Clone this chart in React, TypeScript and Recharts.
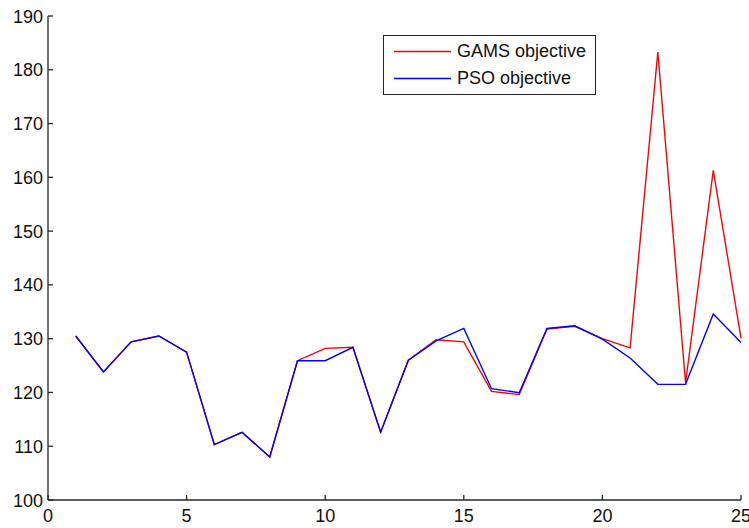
import React from 'react';
import { LineChart, Line, XAxis, YAxis, Legend } from 'recharts';

const xValues = [1, 2, 3, 4, 5, 6, 7, 8, 9, 10, 11, 12, 13, 14, 15, 16, 17, 18, 19, 20, 21, 22, 23, 24, 25];
const gamsObjective = [130.5, 123.8, 129.4, 130.5, 127.5, 110.3, 112.6, 108.0, 125.9, 128.2, 128.4, 112.6, 126.0, 129.8, 129.4, 120.2, 119.6, 131.8, 132.3, 130.0, 128.3, 183.3, 121.8, 161.3, 130.1];
const psoObjective = [130.5, 123.8, 129.4, 130.5, 127.5, 110.3, 112.6, 108.0, 125.9, 125.9, 128.4, 112.6, 126.0, 129.6, 131.9, 120.7, 119.95, 131.9, 132.4, 129.9, 126.4, 121.5, 121.5, 134.6, 129.3];
const xTicks = [0, 5, 10, 15, 20, 25];
const yTicks = [100, 110, 120, 130, 140, 150, 160, 170, 180, 190];
const seriesNames = ['GAMS objective', 'PSO objective'];
const seriesColors = ['#ff0000', '#0000ff'];

const data = xValues.map((x, i) => ({ x, gams: gamsObjective[i], pso: psoObjective[i] }));

const FONT = '"Liberation Sans", Arial, sans-serif';
const AXIS = '#262626';
const TEXT = '#111';
const TICK_LEN = 5;

const BottomTick = (props: any) => {
  const { x, y, payload } = props;
  return (
    <g>
      <line x1={x} x2={x} y1={y} y2={y - TICK_LEN} stroke={AXIS} strokeWidth={1.3} />
      <text x={x} y={y + 22} textAnchor="middle" fill={TEXT} fontSize={18} fontFamily={FONT}>
        {payload.value}
      </text>
    </g>
  );
};

const TopTick = (props: any) => {
  const { x, y } = props;
  return <line x1={x} x2={x} y1={y} y2={y + TICK_LEN} stroke={AXIS} strokeWidth={1.3} />;
};

const LeftTick = (props: any) => {
  const { x, y, payload } = props;
  return (
    <g>
      <line x1={x} x2={x + TICK_LEN} y1={y} y2={y} stroke={AXIS} strokeWidth={1.3} />
      <text x={x - 5} y={y + 6.5} textAnchor="end" fill={TEXT} fontSize={18} fontFamily={FONT}>
        {payload.value}
      </text>
    </g>
  );
};

const RightTick = (props: any) => {
  const { x, y } = props;
  return <line x1={x} x2={x - TICK_LEN} y1={y} y2={y} stroke={AXIS} strokeWidth={1.3} />;
};

const renderLegend = () => (
  <div
    style={{
      width: 211,
      height: 58,
      border: '1px solid #262626',
      background: '#fff',
      fontFamily: FONT,
      fontSize: 18,
      color: TEXT,
      position: 'relative',
    }}
  >
    {seriesNames.map((name, i) => (
      <div key={name} style={{ position: 'absolute', left: 0, top: i === 0 ? 3 : 30, height: 24, display: 'flex', alignItems: 'center' }}>
        <svg width={67} height={24} style={{ display: 'block' }}>
          <line x1={10} x2={67} y1={12.5} y2={12.5} stroke={seriesColors[i]} strokeWidth={1.4} />
        </svg>
        <span style={{ marginLeft: 6, whiteSpace: 'nowrap' }}>{name}</span>
      </div>
    ))}
  </div>
);

export default function App() {
  return (
    <div style={{ position: 'absolute', left: 0, top: 0, width: 749, height: 528, background: '#fff' }}>
      <LineChart width={749} height={528} data={data} margin={{ top: 16, right: 8, left: 0, bottom: 0 }}>
        <XAxis
          dataKey="x"
          type="number"
          domain={[0, 25]}
          ticks={xTicks}
          interval={0}
          height={28}
          tickSize={0}
          tickMargin={0}
          tickLine={false}
          axisLine={{ stroke: AXIS, strokeWidth: 1.3 }}
          tick={<BottomTick />}
        />
        <XAxis
          xAxisId="top"
          orientation="top"
          dataKey="x"
          type="number"
          domain={[0, 25]}
          ticks={xTicks}
          interval={0}
          height={0}
          tickSize={0}
          tickMargin={0}
          tickLine={false}
          axisLine={{ stroke: AXIS, strokeWidth: 1.3 }}
          tick={<TopTick />}
        />
        <YAxis
          type="number"
          domain={[100, 190]}
          ticks={yTicks}
          interval={0}
          width={48}
          tickSize={0}
          tickMargin={0}
          tickLine={false}
          axisLine={{ stroke: AXIS, strokeWidth: 1.3 }}
          tick={<LeftTick />}
        />
        <YAxis
          yAxisId="right"
          orientation="right"
          type="number"
          domain={[100, 190]}
          ticks={yTicks}
          interval={0}
          width={0}
          tickSize={0}
          tickMargin={0}
          tickLine={false}
          axisLine={{ stroke: AXIS, strokeWidth: 1.3 }}
          tick={<RightTick />}
        />
        <Legend
          layout="vertical"
          align="center"
          verticalAlign="middle"
          content={renderLegend}
          wrapperStyle={{ left: 383, top: 35, width: 213, height: 60 }}
        />
        <Line
          type="linear"
          dataKey="gams"
          name={seriesNames[0]}
          stroke={seriesColors[0]}
          strokeWidth={1.4}
          dot={false}
          activeDot={false}
          isAnimationActive={false}
        />
        <Line
          type="linear"
          dataKey="pso"
          name={seriesNames[1]}
          stroke={seriesColors[1]}
          strokeWidth={1.4}
          dot={false}
          activeDot={false}
          isAnimationActive={false}
        />
      </LineChart>
    </div>
  );
}
